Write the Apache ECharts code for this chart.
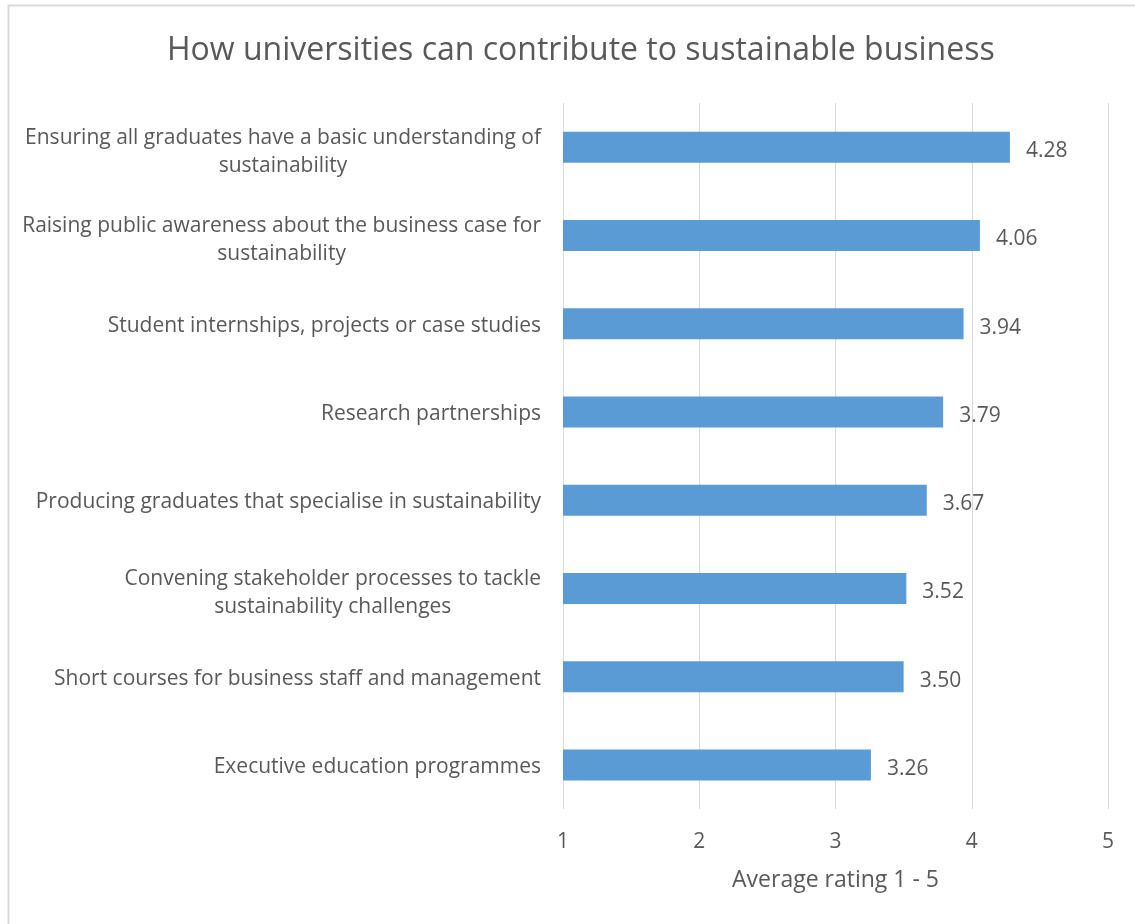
<!DOCTYPE html>
<html><head><meta charset="utf-8">
<script src="https://cdn.jsdelivr.net/npm/echarts@6/dist/echarts.min.js"></script>
<style>html,body{margin:0;padding:0;background:#fff}#c{width:1135px;height:924px}</style>
</head><body><div id="c"></div>
<script>
const categories = [
  "Ensuring all graduates have a basic understanding of\nsustainability",
  "Raising public awareness about the business case for\nsustainability",
  "Student internships, projects or case studies",
  "Research partnerships",
  "Producing graduates that specialise in sustainability",
  "Convening stakeholder processes to tackle\nsustainability challenges",
  "Short courses for business staff and management",
  "Executive education programmes"
];
const values = [4.28, 4.06, 3.94, 3.79, 3.67, 3.52, 3.50, 3.26];
const xTicks = [1, 2, 3, 4, 5];

const FONT = 'Open Sans';
const baseRich = {align: 'center', fontFamily: FONT, fontSize: 21, color: '#595959', lineHeight: 28};
const chart = echarts.init(document.getElementById('c'));
chart.setOption({
  backgroundColor: '#fff',
  animation: false,
  graphic: [{type:'rect', shape:{x:8.5,y:5.5,width:1140,height:930}, style:{fill:'none', stroke:'#d9d9d9', lineWidth:2}}],
  title: {
    text: 'How universities can contribute to sustainable business',
    left: 162, top: 30,
    textStyle: {fontFamily: FONT, fontSize: 32, fontWeight: 'normal', color: '#595959'}
  },
  grid: {left: 563, right: 27, top: 103, bottom: 115, containLabel: false},
  xAxis: {
    type: 'value', min: xTicks[0], max: xTicks[xTicks.length-1], interval: 1,
    name: 'Average rating 1 - 5', nameLocation: 'middle', nameGap: 60,
    nameTextStyle: {fontFamily: FONT, fontSize: 23, color: '#595959'},
    axisLine: {show: false}, axisTick: {show: false},
    splitLine: {show: true, lineStyle: {color: '#d9d9d9', width: 1}},
    axisLabel: {fontFamily: FONT, fontSize: 21, color: '#595959', margin: 23}
  },
  yAxis: {
    type: 'category', inverse: true, data: categories,
    axisLine: {show: false}, axisTick: {show: false},
    axisLabel: {
      margin: 22, align: 'right',
      formatter: function (v) {
        const lines = v.split('\n');
        return lines.map((s, i) => '{' + (i === 0 ? (lines.length > 1 ? 'f' : 's') : 'c') + '|' + s + '}').join('\n');
      },
      rich: {
        c: Object.assign({}, baseRich, {padding: [10, 0, 0, 0]}),
        f: Object.assign({}, baseRich, {padding: [10, 0, 0, 0]}),
        s: Object.assign({}, baseRich, {padding: [4, 0, 0, 0]})
      }
    }
  },
  series: [{
    type: 'bar', data: values, barWidth: 31,
    itemStyle: {color: '#5b9bd5'},
    label: {show: true, position: 'right', distance: 16, offset: [0, 4], formatter: p => p.value.toFixed(2),
      fontFamily: FONT, fontSize: 21, color: '#595959'}
  }]
});
</script></body></html>
